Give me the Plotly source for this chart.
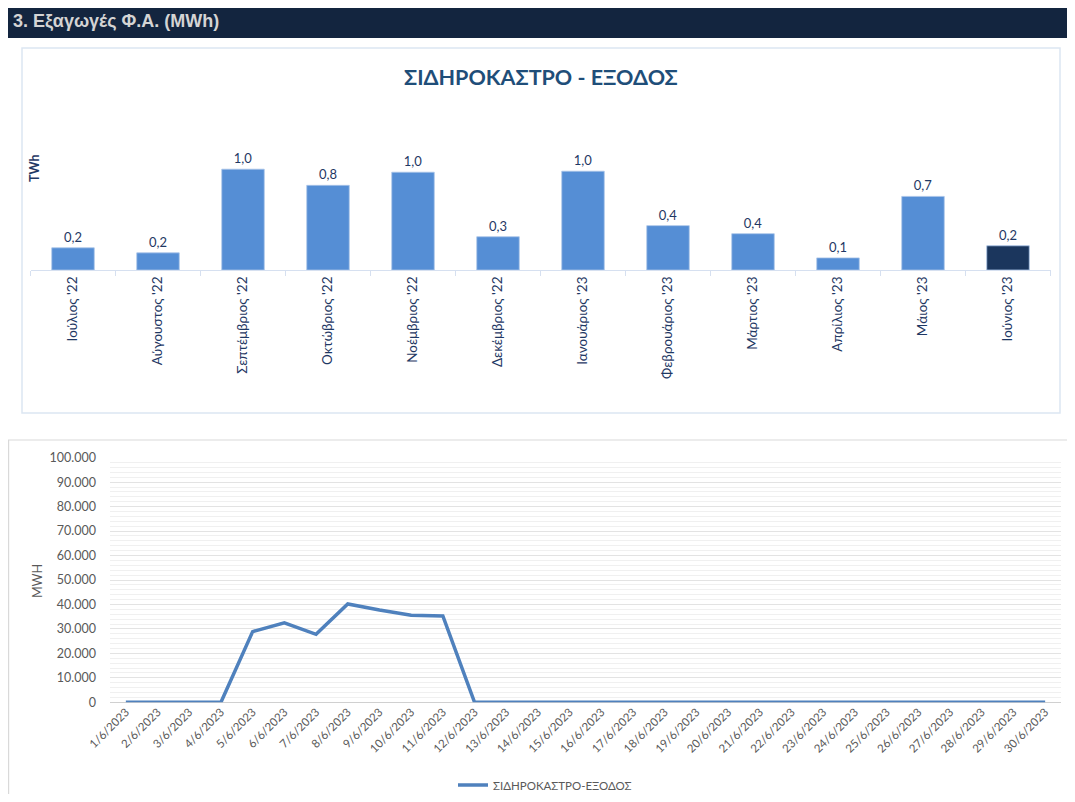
import plotly.graph_objects as go

# page is 1075x802; the html body has an 8px margin, so the figure is drawn
# inside it and page pixel coordinates are mapped with an 8px offset.
PAGE_W, PAGE_H = 1075, 802
OFF = 8
W, H = PAGE_W - 2 * OFF, PAGE_H - 2 * OFF

# ---- data ----
months = ["Ιούλιος '22", "Αύγουστος '22", "Σεπτέμβριος '22", "Οκτώβριος '22",
          "Νοέμβριος '22", "Δεκέμβριος '22", "Ιανουάριος '23", "Φεβρουάριος '23",
          "Μάρτιος '23", "Απρίλιος '23", "Μάιος '23", "Ιούνιος '23"]
twh = [0.22, 0.17, 1.00, 0.84, 0.97, 0.33, 0.98, 0.44, 0.36, 0.12, 0.73, 0.24]

days = [f"{d}/6/2023" for d in range(1, 31)]
mwh = [0, 0, 0, 0, 28900, 32500, 27800, 40200, 37700, 35600, 35300, 0,
       0, 0, 0, 0, 0, 0, 0, 0, 0, 0, 0, 0, 0, 0, 0, 0, 0, 0]

FONT = "Lato, 'Noto Sans', sans-serif"
NAVY = "#1f3864"
GREY = "#595959"


def px(x):
    return min(max((x - OFF) / W, 0), 1)


def py(y):
    return min(max(1 - (y - OFF) / H, 0), 1)


bar_colors = ["#558ed5"] * (len(months) - 1) + ["#1b365d"]

fig = go.Figure()
fig.add_trace(go.Bar(
    x=months, y=twh, marker=dict(color=bar_colors, line=dict(color="#a9c4e8", width=0.8)),
    width=0.5, texttemplate="%{y:.1f}", textposition="outside",
    textfont=dict(family=FONT, size=13, color=NAVY), cliponaxis=False,
    showlegend=False, xaxis="x", yaxis="y", hoverinfo="skip"))

fig.add_trace(go.Scatter(
    x=days, y=mwh, mode="lines", name="ΣΙΔΗΡΟΚΑΣΤΡΟ-ΕΞΟΔΟΣ",
    line=dict(color="#4f81bd", width=3.5), xaxis="x2", yaxis="y2"))

fig.update_layout(
    template="none",
    width=W, height=H, margin=dict(l=0, r=0, t=0, b=0, autoexpand=False),
    paper_bgcolor="white", plot_bgcolor="rgba(0,0,0,0)",
    separators=",.",
    font=dict(family=FONT, color=GREY),
    xaxis=dict(domain=[px(30.5), px(1050.5)], anchor="y", showline=True, automargin=False,
               linecolor="#d6e0f0", linewidth=1.2, ticks="outside", tickson="boundaries",
               ticklen=5, tickcolor="#d6e0f0", tickangle=-90,
               tickfont=dict(family=FONT, size=13.5, color=NAVY), showgrid=False),
    yaxis=dict(domain=[py(270), py(144)], range=[0, 1.25], visible=False, automargin=False,
               showgrid=False, zeroline=False),
    xaxis2=dict(domain=[px(110), px(1061)], anchor="y2", showline=False, automargin=False,
                range=[-0.5, len(days) - 0.5],
                tickangle=-45, tickfont=dict(family=FONT, size=11.5, color=GREY),
                showgrid=False, ticks=""),
    yaxis2=dict(domain=[py(702.3), py(457.7)], range=[0, 100000], anchor="x2", automargin=False,
                dtick=10000, tickformat=",.0f", showgrid=True, gridcolor="#e3e3e3",
                gridwidth=1, zeroline=True, zerolinecolor="#d0d0d0", zerolinewidth=1,
                minor=dict(dtick=2000, showgrid=True, gridcolor="#f0f0f0", gridwidth=1),
                tickfont=dict(family=FONT, size=12.5, color=GREY), ticks="", ticklabelstandoff=13),
    legend=dict(orientation="h", x=px(545), xanchor="center", y=py(785), yanchor="middle",
                font=dict(family=FONT, size=11.5, color=GREY), bgcolor="rgba(0,0,0,0)"),
    bargap=0.5,
)

shapes = [
    dict(type="rect", xref="paper", yref="paper", x0=px(8), x1=px(1075), y0=py(38), y1=py(5),
         fillcolor="#13253f", line=dict(width=0), layer="below"),
    dict(type="rect", xref="paper", yref="paper", x0=px(22), x1=px(1060), y0=py(413), y1=py(48),
         fillcolor="rgba(0,0,0,0)", line=dict(color="#dce6f2", width=1.5), layer="below"),
    dict(type="line", xref="paper", yref="paper", x0=px(8), x1=px(1075), y0=py(440), y1=py(440),
         line=dict(color="#d9d9d9", width=1.2)),
    dict(type="line", xref="paper", yref="paper", x0=px(8.6), x1=px(8.6), y0=py(440), y1=py(802),
         line=dict(color="#d9d9d9", width=1.2)),
]
fig.update_layout(shapes=shapes)

annotations = [
    dict(text="<b>3. Εξαγωγές Φ.Α. (MWh)</b>", xref="paper", yref="paper", x=px(11), y=py(21),
         xanchor="left", yanchor="middle", showarrow=False,
         font=dict(family="Liberation Sans, Arial, sans-serif", size=18, color="#d4d4d4")),
    dict(text="<b>ΣΙΔΗΡΟΚΑΣΤΡΟ - ΕΞΟΔΟΣ</b>", xref="paper", yref="paper", x=px(541), y=py(77),
         xanchor="center", yanchor="middle", showarrow=False,
         font=dict(family=FONT, size=21.5, color="#1f4e79")),
    dict(text="<b>TWh</b>", xref="paper", yref="paper", x=px(34), y=py(168), textangle=-90,
         xanchor="center", yanchor="middle", showarrow=False,
         font=dict(family=FONT, size=12.5, color=NAVY)),
    dict(text="MWH", xref="paper", yref="paper", x=px(37), y=py(581), textangle=-90,
         xanchor="center", yanchor="middle", showarrow=False,
         font=dict(family=FONT, size=12.5, color=GREY)),
]
fig.update_layout(annotations=annotations)

fig.write_html("out.html")
